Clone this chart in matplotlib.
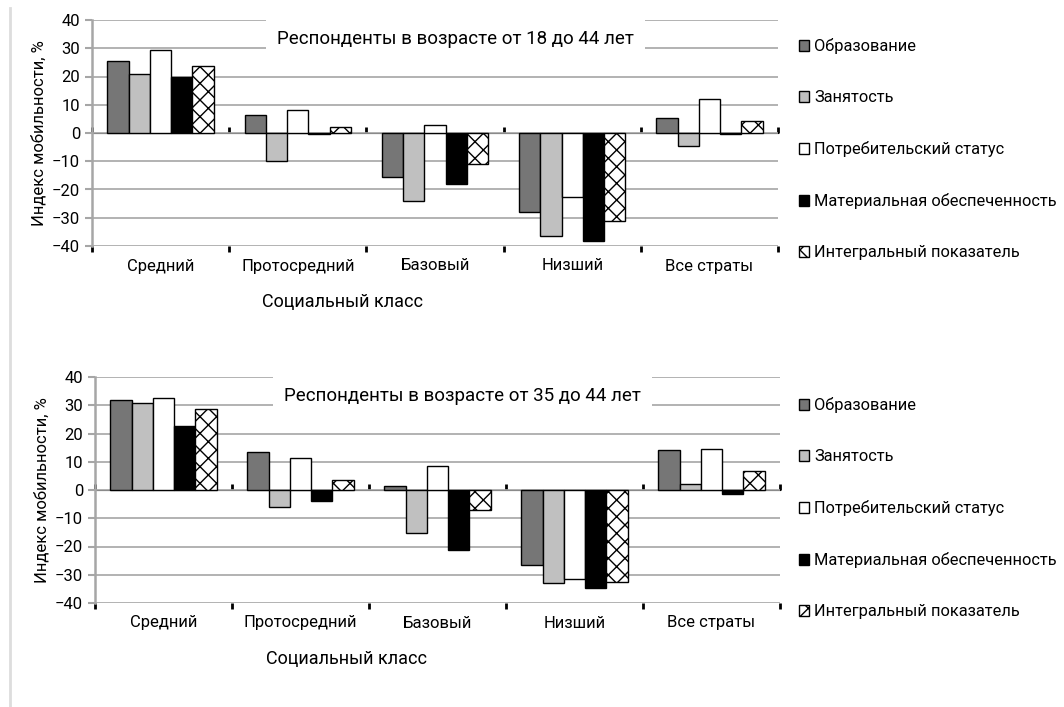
import matplotlib.pyplot as plt
import numpy as np
from matplotlib.lines import Line2D

plt.rcParams['font.family'] = ['Roboto', 'DejaVu Sans']

categories = ['Средний', 'Протосредний', 'Базовый', 'Низший', 'Все страты']
series_names = ['Образование', 'Занятость', 'Потребительский статус',
                'Материальная обеспеченность', 'Интегральный показатель']

# Респонденты 18-44
young_edu = [25.4, 6.3, -15.4, -28.0, 5.3]
young_job = [20.8, -10.0, -24.1, -36.5, -4.7]
young_cons = [29.4, 8.3, 2.7, -22.5, 11.9]
young_mat = [19.8, -0.3, -18.1, -38.3, -0.2]
young_int = [23.8, 2.3, -10.9, -31.1, 4.3]

# Респонденты 35-44
mid_edu = [32.0, 13.5, 1.5, -26.4, 14.1]
mid_job = [30.9, -5.9, -15.3, -32.9, 2.0]
mid_cons = [32.5, 11.5, 8.5, -31.4, 14.6]
mid_mat = [22.8, -3.9, -21.4, -34.8, -1.4]
mid_int = [28.5, 3.6, -7.1, -32.6, 6.6]

titles = ['Респонденты в возрасте от 18 до 44 лет',
          'Респонденты в возрасте от 35 до 44 лет']

colors = ['#767676', '#c0c0c0', 'white', 'black', 'white']
hatches = [None, None, None, None, 'xx']
grid_c = '#a6a6a6'

fig = plt.figure(figsize=(10.64, 7.07), dpi=100)
W, H = 1064, 707


def draw_panel(rect, data, title, title_xy, xlabel_x, legend_top):
    ax = fig.add_axes(rect)
    x = np.arange(len(categories))
    w = 0.155
    for i, vals in enumerate(data):
        ax.bar(x + (i - 2) * w, vals, width=w, color=colors[i],
               edgecolor='black', linewidth=1.0, hatch=hatches[i],
               label=series_names[i], zorder=3)
    ax.set_xlim(-0.5, len(categories) - 0.5)
    ax.set_ylim(-40, 40)
    ax.set_yticks(np.arange(-40, 41, 10))
    ax.set_yticklabels([str(v).replace('-', '−') for v in range(-40, 41, 10)])
    ax.yaxis.grid(True, color=grid_c, linewidth=1.2, zorder=0)
    for s in ['top', 'right', 'bottom']:
        ax.spines[s].set_visible(False)
    ax.spines['left'].set_color(grid_c)
    ax.spines['left'].set_linewidth(1.8)
    ax.tick_params(axis='y', colors=grid_c, length=5, width=1.5,
                   labelcolor='black', labelsize=12)
    ax.set_xticks(x)
    ax.set_xticklabels(categories)
    ax.set_xticks(np.arange(-0.5, len(categories)), minor=True)
    ax.tick_params(axis='x', which='major', length=0, labelsize=12, pad=9)
    ax.tick_params(axis='x', which='minor', length=4, width=2, color='black')
    ax.set_ylabel('Индекс мобильности, %', fontsize=12, labelpad=4)
    ax.set_xlabel('Социальный класс', fontsize=13)
    ax.xaxis.set_label_coords(xlabel_x, -0.21)

    # zero axis
    sec = ax.secondary_xaxis(0.5)
    sec.set_xticks(np.arange(-0.5, len(categories)))
    sec.set_xticklabels([])
    sec.spines['bottom'].set_linewidth(1.8)
    sec.tick_params(length=4, width=2, color='black', direction='out')

    ax.text(title_xy[0], title_xy[1], title, transform=ax.transAxes,
            ha='center', va='center', fontsize=13.5, zorder=5,
            bbox=dict(facecolor='white', edgecolor='none', pad=8))

    ax.legend(loc='upper left', bbox_to_anchor=(791 / W, legend_top),
              bbox_transform=fig.transFigure, frameon=False,
              fontsize=11.8, handlelength=0.6, handleheight=0.6,
              handletextpad=0.3, labelspacing=2.2, borderpad=0)
    return ax


top_data = [young_edu, young_job, young_cons, young_mat, young_int]
bot_data = [mid_edu, mid_job, mid_cons, mid_mat, mid_int]

draw_panel([92 / W, 1 - 246 / H, 686 / W, 226 / H], top_data, titles[0],
           (0.530, 0.915), 0.365, 1 - 30 / H)
draw_panel([95 / W, 1 - 603 / H, 685 / W, 226 / H], bot_data, titles[1],
           (0.537, 0.915), 0.367, 1 - 389 / H)

# page border on the left
fig.add_artist(Line2D([10 / W, 10 / W], [0, 1 - 8 / H], color='#dddddd',
                      linewidth=2, transform=fig.transFigure))

fig.savefig('out.png', dpi=100)
